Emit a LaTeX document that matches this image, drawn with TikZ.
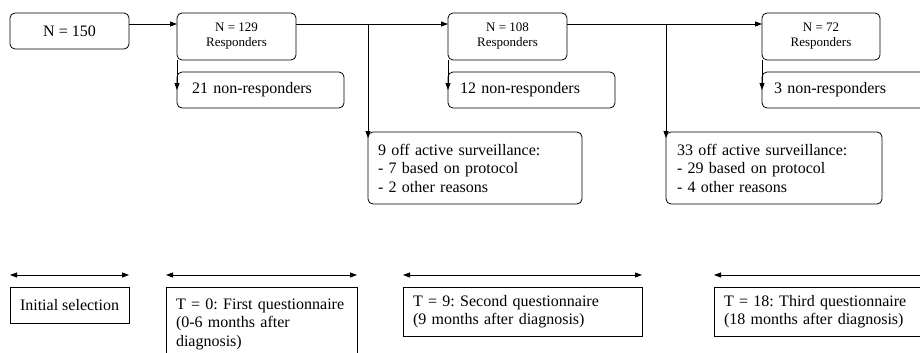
\documentclass[tikz,border=0pt]{standalone}
\usepackage{fontspec}
\setmainfont{Liberation Serif}
\usetikzlibrary{arrows.meta,calc}
\frenchspacing

\begin{document}
\begin{tikzpicture}[
  x=1pt, y=-1pt,
  every node/.style={draw, line width=0.8pt, inner sep=0pt, outer sep=0pt,
    font=\fontsize{16}{18.5}\selectfont},
  stage/.style={rounded corners=5pt, anchor=north west, align=center},
  count/.style={stage, font=\fontsize{13}{15}\selectfont},
  drop/.style={stage, align=left, inner xsep=12pt},
  period/.style={anchor=north west, align=left, inner xsep=10pt},
  flow/.style={draw, line width=0.8pt, -{Triangle[length=7pt,width=5pt]}},
  span/.style={draw, line width=0.8pt,
    {Triangle[length=7pt,width=5pt]}-{Triangle[length=7pt,width=5pt]}}
]
\useasboundingbox (0,0) rectangle (920,353);
\clip (0,0) rectangle (920,353);

% flow of participants
\node[stage, minimum width=119, minimum height=36] (n150) at (10,13) {N = 150};
\node[count, minimum width=119, minimum height=47] (n129) at (177,13) {N = 129\\Responders};
\node[count, minimum width=119, minimum height=47] (n108) at (448,13) {N = 108\\Responders};
\node[count, minimum width=118, minimum height=47] (n72) at (762,13) {N = 72\\Responders};

\node[drop, inner xsep=15pt, text width=137, minimum height=36] (nr1) at (177,72) {21 non-responders};
\node[drop, text width=143, minimum height=36] (nr2) at (448,72) {12 non-responders};
\node[drop, text width=150, minimum height=36] (nr3) at (762,72) {3 non-responders};

\node[drop, inner xsep=10pt, text width=194, minimum height=72] (off1) at (368,132)
  {9 off active surveillance:\\- 7 based on protocol\\- 2 other reasons};
\node[drop, inner xsep=11pt, text width=194, minimum height=72] (off2) at (666,132)
  {33 off active surveillance:\\- 29 based on protocol\\- 4 other reasons};

\coordinate (row) at (0,24);
\draw[flow] (n150.east |- row) -- (n129.west |- row);
\draw[flow] (n129.east |- row) -- (n108.west |- row);
\draw[flow] (n108.east |- row) -- (n72.west |- row);
\draw[flow] (off1.north west |- row) -- ($(off1.north west)+(0,6)$);
\draw[flow] (off2.north west |- row) -- ($(off2.north west)+(0,6)$);
\draw[flow] (n129.south west) -- (nr1.west);
\draw[flow] (n108.south west) -- (nr2.west);
\draw[flow] (n72.south west) -- (nr3.west);

% time line
\node[period, align=center, minimum width=119, minimum height=36] (sel) at (10,287) {Initial selection};
\node[period, text width=171, minimum height=74] (q0) at (166,287)
  {T = 0: First questionnaire\\(0-6 months after\\diagnosis)};
\node[period, text width=219, minimum height=49] (q9) at (403,287)
  {T = 9: Second questionnaire\\(9 months after diagnosis)};
\node[period, text width=240, minimum height=49] (q18) at (714,287)
  {T = 18: Third questionnaire\\(18 months after diagnosis)};

\coordinate (tl) at (0,275);
\foreach \p in {sel,q0,q9,q18}
  \draw[span] (\p.west |- tl) -- (\p.east |- tl);
\end{tikzpicture}
\end{document}
